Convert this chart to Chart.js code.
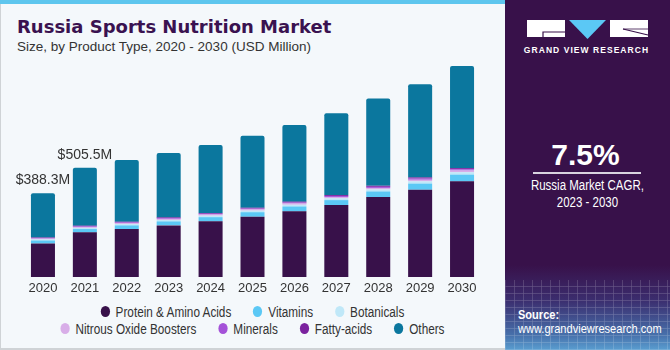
<!DOCTYPE html>
<html>
<head>
<meta charset="utf-8">
<script src="https://cdn.jsdelivr.net/npm/chart.js@4"></script>
<style>
  body { margin: 0; width: 670px; height: 350px; overflow: hidden; background: #fff; font-family: "Liberation Sans", Arial, sans-serif; }
  #left { position: absolute; left: 0; top: 0; width: 504px; height: 348px; background: #f4f8fb; border-left: 1px solid #cfd3d6; border-bottom: 2px solid #cfd3d6; }
  #stripe { position: absolute; left: 0; top: 0; width: 505px; height: 4px; background: #5ec6ee; }
  #title { position: absolute; left: 17px; top: 16px; font: bold 18px "DejaVu Sans", sans-serif; color: #3a1250; white-space: nowrap; }
  #subtitle { position: absolute; left: 17px; top: 39px; font-size: 13.5px; color: #333; white-space: nowrap; }
  #chartBox { position: absolute; left: 0; top: 60px; width: 505px; height: 237px; }
  #legend { position: absolute; left: 0; top: 303px; width: 505px; font: 14px "Liberation Sans", Arial, sans-serif; color: #333; }
  .row { display: flex; justify-content: center; height: 17px; align-items: center; transform: scaleX(0.84); transform-origin: 252px 50%; }
  .item { display: flex; align-items: center; margin: 0 13px; white-space: nowrap; }
  .dot { width: 11px; height: 11px; border-radius: 50%; margin-right: 7px; }
  #panel { position: absolute; left: 505px; top: 0; width: 165px; height: 350px; overflow: hidden;
    background: linear-gradient(to bottom, #38114a 0px, #38114a 265px, #3b2d6e 300px, #4770ab 335px, #5a9ed0 350px); }
  #grid { position: absolute; left: 0; top: 280px; width: 165px; height: 70px; opacity: 0.25;
    background-image: repeating-linear-gradient(90deg, rgba(255,255,255,0.6) 0 1px, transparent 1px 9px),
                      repeating-linear-gradient(0deg, rgba(255,255,255,0.6) 0 1px, transparent 1px 7px); }
  .ptxt { position: absolute; left: 0; width: 165px; text-align: center; color: #fff; white-space: nowrap; }
  #cagr { top: 138px; font: bold 30px "Liberation Sans", Arial, sans-serif; left: -2px; }
  #rule { position: absolute; left: 28px; top: 172px; width: 108px; height: 2px; background: #d9d3df; }
  #cagrTxt { top: 177px; font: 14px/17px "Liberation Sans", Arial, sans-serif; transform: scaleX(0.82); transform-origin: 82px 50%; }
  #brand { top: 45px; font: bold 8.5px "Liberation Sans", Arial, sans-serif; letter-spacing: 1.05px; left: -1px; }
  #source { position: absolute; left: 13px; top: 308px; color: #fff; font: 13px/14px "Liberation Sans", Arial, sans-serif; white-space: nowrap; transform: scaleX(0.85); transform-origin: 0 50%; }
</style>
</head>
<body>
<div id="left"></div>
<div id="stripe"></div>
<div id="title">Russia Sports Nutrition Market</div>
<div id="subtitle">Size, by Product Type, 2020 - 2030 (USD Million)</div>
<div id="chartBox"><canvas id="chart" width="505" height="237"></canvas></div>
<div id="legend"></div>
<div id="panel">
  <div id="grid"></div>
  <svg style="position:absolute;left:22px;top:20px" width="122" height="20">
    <rect x="0" y="0" width="38" height="17" fill="#fff"/>
    <polyline points="38,12 16,12 16,17" fill="none" stroke="#38114a" stroke-width="1.2"/>
    <polygon points="42,0 79,0 60.5,19" fill="#5bc8f5"/>
    <rect x="83" y="0" width="38" height="17" fill="#fff"/>
    <line x1="96" y1="9" x2="121" y2="15" stroke="#38114a" stroke-width="1.2"/>
    <line x1="96" y1="9" x2="121" y2="9" stroke="#38114a" stroke-width="0.8"/>
  </svg>
  <div id="brand" class="ptxt">GRAND VIEW RESEARCH</div>
  <div id="cagr" class="ptxt">7.5%</div>
  <div id="rule"></div>
  <div id="cagrTxt" class="ptxt">Russia Market CAGR,<br>2023 - 2030</div>
  <div id="source"><b style="font-size:13px">Source:</b><br>www.grandviewresearch.com</div>
</div>
<script>
const years = ["2020", "2021", "2022", "2023", "2024", "2025", "2026", "2027", "2028", "2029", "2030"];
const protein = [155, 207, 222, 239, 258, 279, 304, 333, 370, 404, 443];
const vitamins = [14, 15, 17, 18.5, 19, 21, 22.5, 23, 26, 28.5, 31];
const botanicals = [5, 5.5, 6, 6.7, 7, 7.5, 8, 8.5, 9.5, 10.3, 11];
const nitrous = [3.6, 4, 4.4, 4.8, 5, 5.4, 5.8, 6, 6.8, 7.4, 8];
const minerals = [2.6, 3, 3.2, 3.5, 3.7, 3.9, 4.3, 4.4, 5, 5.4, 5.6];
const fattyAcids = [2.6, 3, 3.2, 3.5, 3.7, 3.9, 4.3, 4.4, 5, 5.4, 5.6];
const others = [205.5, 268, 286, 298, 314.6, 333.3, 355, 378.7, 403.7, 431, 472.8];
const totalLabels = ["$388.3M", "$505.5M"];

const seriesNames = ["Protein & Amino Acids", "Vitamins", "Botanicals", "Nitrous Oxide Boosters", "Minerals", "Fatty-acids", "Others"];
const seriesData = [protein, vitamins, botanicals, nitrous, minerals, fattyAcids, others];
const seriesColors = ["#38114a", "#5bc8f5", "#c0e8f8", "#d8aee8", "#a452d8", "#7a229e", "#0b779e"];

// legend: 3 on first row, 4 on second, like the original
const legend = document.getElementById("legend");
[[0, 1, 2], [3, 4, 5, 6]].forEach(idx => {
  const row = document.createElement("div");
  row.className = "row";
  idx.forEach(i => {
    const it = document.createElement("div");
    it.className = "item";
    it.innerHTML = `<span class="dot" style="background:${seriesColors[i]}"></span>${seriesNames[i]}`;
    row.appendChild(it);
  });
  legend.appendChild(row);
});

const totalLabelPlugin = {
  id: "totalLabels",
  afterDatasetsDraw(chart) {
    const ctx = chart.ctx;
    const meta = chart.getDatasetMeta(chart.data.datasets.length - 1);
    ctx.save();
    ctx.font = '14px "Liberation Sans", Arial, sans-serif';
    ctx.fillStyle = "#333";
    ctx.textAlign = "center";
    ctx.textBaseline = "alphabetic";
    totalLabels.forEach((txt, i) => {
      const bar = meta.data[i];
      ctx.fillText(txt, bar.x, bar.y - 9);
    });
    ctx.restore();
  }
};

new Chart(document.getElementById("chart"), {
  type: "bar",
  data: {
    labels: years,
    datasets: seriesData.map((d, i) => ({
      label: seriesNames[i],
      data: d,
      backgroundColor: seriesColors[i],
      borderWidth: 0,
      borderRadius: i === 6 ? 2 : 0,
      barPercentage: 0.573,
      categoryPercentage: 1,
    })),
  },
  options: {
    responsive: false,
    animation: false,
    layout: { padding: { left: 22, right: 22, top: 1, bottom: 0 } },
    plugins: { legend: { display: false }, tooltip: { enabled: false } },
    scales: {
      x: {
        stacked: true,
        grid: { display: false, drawTicks: false },
        border: { display: false },
        ticks: { color: "#333", font: { family: '"Liberation Sans", Arial, sans-serif', size: 13 }, padding: 4 },
        afterFit: s => { s.height = 20; },
      },
      y: { stacked: true, display: false, min: 0, max: 1000 },
    },
  },
  plugins: [totalLabelPlugin],
});
</script>
</body>
</html>
